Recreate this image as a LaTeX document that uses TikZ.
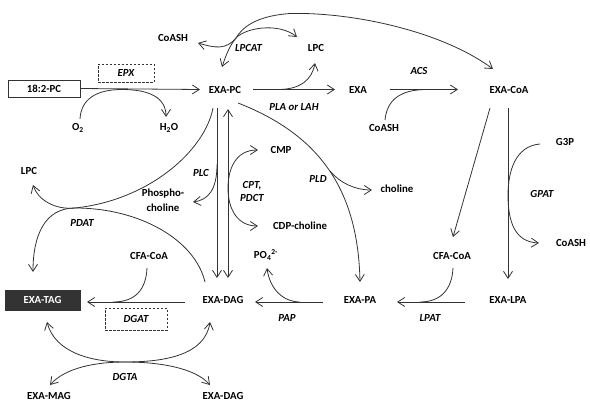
\documentclass[tikz,border=0pt]{standalone}
\usepackage{fontspec}
\setmainfont{Carlito}
\usetikzlibrary{arrows.meta}

\begin{document}
\begin{tikzpicture}[x=1pt,y=-1pt,line width=0.8pt,draw=black!80,
  >={Straight Barb[length=7pt,width=9pt]},
  every node/.style={font=\bfseries\fontsize{10.8}{13}\selectfont,inner sep=1pt},
  enz/.style={font=\bfseries\itshape\fontsize{10.8}{13}\selectfont},
  dashbox/.style={enz,draw,dash pattern=on 2.5pt off 1.5pt,line width=0.6pt}]

  \useasboundingbox (0,0) rectangle (590,405);

  % draw the lipids with nodes
  \node (pcin) [draw,line width=1pt,minimum width=72pt,minimum height=17pt] at (44,88.5) {18:2-PC};
  \node (epx) [dashbox,minimum width=56pt,minimum height=18pt] at (126,73) {EPX};
  \node (pc) at (225,89.5) {EXA-PC};
  \node (coasha) at (173,38) {CoASH};
  \node (lpcat) [enz] at (248.5,48) {LPCAT};
  \node (lpca) at (316,48) {LPC};
  \node (exa) at (358,89.5) {EXA};
  \node (acs) [enz] at (419,71) {ACS};
  \node (coa) at (509,89.5) {EXA-CoA};
  \node (coashb) at (384,128) {CoASH};
  \node (pla) [enz] at (294,107) {PLA or LAH};
  \node (otwo) at (78,128) {O\textsubscript{2}};
  \node (water) at (169,128) {H\textsubscript{2}O};
  \node (lpcb) at (29,171) {LPC};
  \node (plc) [enz] at (201,173) {PLC};
  \node (phos) [align=center,font=\bfseries\fontsize{10.8}{15}\selectfont] at (163,200) {Phospho-\\choline};
  \node (cmp) at (281,150) {CMP};
  \node (cpt) [enz,align=center] at (252,191) {CPT,\\PDCT};
  \node (cdp) at (300,226) {CDP-choline};
  \node (pld) [enz] at (318,179) {PLD};
  \node (chol) at (397,189) {choline};
  \node (gtp) at (565,142) {G3P};
  \node (gpat) [enz] at (542,194) {GPAT};
  \node (coashc) at (571,243) {CoASH};
  \node (pdat) [enz] at (82,223) {PDAT};
  \node (cfaa) at (149,256) {CFA-CoA};
  \node (phosph) at (266,255) {PO\textsubscript{4}\textsuperscript{2-}};
  \node (cfab) at (452,256) {CFA-CoA};
  \node (tag) [draw,fill=black!80,text=white,minimum width=75pt,minimum height=20pt] at (42.5,300) {EXA-TAG};
  \node (dag) at (223,300) {EXA-DAG};
  \node (pa) at (360,300) {EXA-PA};
  \node (lpa) at (508,300) {EXA-LPA};
  \node (dgat) [dashbox,minimum width=62pt,minimum height=22pt] at (136,319) {DGAT};
  \node (pap) [enz] at (287,318) {PAP};
  \node (lpat) [enz] at (430,318) {LPAT};
  \node (dgta) [enz] at (125,377) {DGTA};
  \node (mag) at (49,396) {EXA-MAG};
  \node (dagb) at (223,396) {EXA-DAG};

  % points where two curves touch
  \coordinate (lpx) at (236,38);
  \coordinate (pdx) at (75,208);
  \coordinate (dgx) at (125,362);

  % epoxidation
  \draw[->] (pcin.east) -- ([xshift=-25pt]pc.center);
  \draw[->] ([xshift=2pt,yshift=9pt]otwo.center) .. controls (81,100) and (95,89.5) .. (122,89.5)
    .. controls (150,89.5) and (166,98) .. ([xshift=-3pt,yshift=11pt]water.center);

  % LPCAT
  \draw[<->] ([xshift=-3pt,yshift=22.5pt]pc.center) .. controls (226,55) and (230,45) .. (lpx)
    .. controls (242,28) and (255,16) .. (290,13.5)
    .. controls (350,12) and (440,30) .. ([xshift=-16pt,yshift=20.5pt]coa.center);
  \draw[<->] ([xshift=25pt,yshift=-5pt]coasha.center) .. controls (215,48) and (226,50) .. (lpx)
    .. controls (245,28) and (278,22) .. ([xshift=-19pt,yshift=11pt]lpca.center);

  % PLA or LAH, then ACS
  \draw[->] ([xshift=28pt]pc.center) -- ([xshift=-23pt]exa.center);
  \draw[->] ([xshift=53pt]pc.center) .. controls (300,89.5) and (312,80) .. ([xshift=-1pt,yshift=-15pt]lpca.center);
  \draw[->] ([xshift=32pt]exa.center) -- ([xshift=-51pt]coa.center);
  \draw ([xshift=1pt,yshift=8pt]coashb.center) .. controls (387,100) and (400,89.5) .. ([xshift=-82pt]coa.center);

  % acyl-CoA going down
  \draw[->] ([xshift=-19pt,yshift=-18.5pt]coa.center) -- ([xshift=1pt,yshift=19pt]cfab.center);
  \draw[->] ([xshift=-1pt,yshift=-18.5pt]coa.center) -- ([yshift=21pt]lpa.center);
  \draw[->] ([xshift=-25pt,yshift=-2pt]gtp.center) .. controls (515,146) and (508,172) .. (508,195)
    .. controls (508,222) and (515,242) .. ([xshift=-32pt]coashc.center);

  % LPAT, PAP, DGAT
  \draw[->] ([xshift=-43pt,yshift=-2pt]lpa.center) -- ([xshift=37pt,yshift=-2pt]pa.center);
  \draw ([xshift=1pt,yshift=-12pt]cfab.center) .. controls (452,290) and (440,302) .. ([xshift=-88pt,yshift=-2pt]lpa.center);
  \draw[->] ([xshift=-37pt,yshift=-2pt]pa.center) -- ([xshift=32pt,yshift=-2pt]dag.center);
  \draw[->] ([xshift=-60pt,yshift=-2pt]pa.center) .. controls (284,302) and (270,290) .. ([xshift=1pt,yshift=-13pt]phosph.center);
  \draw[->] ([xshift=-38pt,yshift=-2pt]dag.center) -- ([xshift=44.5pt,yshift=-2pt]tag.center);
  \draw ([xshift=-2pt,yshift=-12pt]cfaa.center) .. controls (146,290) and (135,302) .. ([xshift=-110pt,yshift=-2pt]dag.center);

  % PC and DAG, PLC and CPT
  \draw[->] ([xshift=-8pt,yshift=-18.5pt]pc.center) -- ([xshift=-6pt,yshift=22pt]dag.center);
  \draw[<->] ([xshift=3pt,yshift=-19.5pt]pc.center) -- ([xshift=5pt,yshift=22pt]dag.center);
  \draw[->] ([xshift=-8pt,yshift=-75pt]pc.center) .. controls (217,190) and (208,200) .. ([xshift=30pt,yshift=-2pt]phos.center);
  \draw[<->] ([xshift=-23pt]cmp.center) .. controls (235,150) and (228,170) .. (228,188)
    .. controls (228,210) and (238,226) .. ([xshift=-42pt]cdp.center);

  % PLD
  \draw[->] ([xshift=13pt,yshift=-13.5pt]pc.center) .. controls (320,135) and (358,190) .. ([yshift=18pt]pa.center);
  \draw[->] ([xshift=12pt,yshift=8pt]pld.center) .. controls (340,183) and (355,190) .. ([xshift=-25pt,yshift=-1pt]chol.center);

  % PDAT
  \draw[->] ([xshift=-12pt,yshift=-18.5pt]pc.center) .. controls (205,150) and (150,200) .. (pdx)
    .. controls (55,210) and (38,200) .. ([xshift=4pt,yshift=-14pt]lpcb.center);
  \draw[->] ([xshift=-18pt,yshift=18pt]dag.center) .. controls (195,240) and (140,208) .. (pdx)
    .. controls (45,208) and (33,235) .. ([xshift=-9.5pt,yshift=28pt]tag.center);

  % DGTA
  \draw[<->] ([xshift=4.5pt,yshift=-22pt]tag.center) .. controls (55,352) and (90,362) .. (dgx)
    .. controls (165,362) and (205,355) .. ([xshift=-13pt,yshift=-22pt]dag.center);
  \draw[<->] ([xshift=1pt,yshift=11pt]mag.center) .. controls (65,368) and (95,362) .. (dgx)
    .. controls (160,362) and (195,368) .. ([xshift=-13pt,yshift=11pt]dagb.center);

\end{tikzpicture}
\end{document}
